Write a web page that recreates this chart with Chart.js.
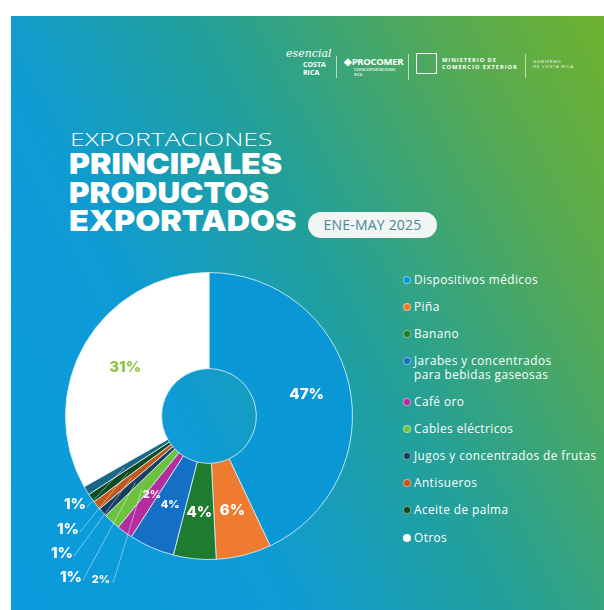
<!doctype html>
<html>

<head>
  <meta charset="utf-8">
  <script src="https://cdn.jsdelivr.net/npm/chart.js@4/dist/chart.umd.min.js"></script>
  <style>
    body { margin: 0; width: 604px; height: 610px; background: #fff; overflow: hidden; font-family: "Open Sans", sans-serif; }
    #card {
      position: absolute; left: 11px; top: 16px; width: 593px; height: 594px; overflow: hidden;
      background: linear-gradient(62deg, #0a9bdc 0%, #0e9bd6 30%, #22a09a 55%, #56aa52 82%, #6eb22e 100%);
    }
    .t { position: absolute; color: #fff; white-space: nowrap; transform-origin: 0 0; }
    #sub { left: 59px; top: 114px; font-size: 19px; line-height: 19px; font-weight: 300; font-family: "Open Sans", sans-serif; }
    .big { left: 58px; font-family: Inter, sans-serif; font-weight: 900; font-size: 29px; line-height: 30px; }
    #pill {
      position: absolute; left: 297px; top: 196px; width: 129px; height: 26px; border-radius: 13px;
      background: #f1f5f4; color: #4a8894; font-size: 14px; line-height: 26px; text-align: center; letter-spacing: 0.2px;
    }
    #legend { position: absolute; left: 390px; top: 253px; }
    .li { position: absolute; left: 0; color: #fff; font-size: 11.8px; line-height: 13.5px; white-space: pre; letter-spacing: 0.45px; }
    .dot { position: absolute; left: 2px; top: 2.5px; width: 8px; height: 8px; border-radius: 50%; border: 1px solid rgba(255,255,255,0.45); box-sizing: border-box; }
    .li span { position: absolute; left: 13px; top: 0; }
    #wrap { position: absolute; left: 0px; top: 234px; width: 390px; height: 360px; }
    .logo { position: absolute; color: #fff; font-weight: 700; white-space: nowrap; }
    .sep { position: absolute; width: 1px; background: rgba(255,255,255,0.6); }
  </style>
</head>

<body>
  <div id="card">
    <div class="logo" style="left:275px;top:31px;font-size:11px;font-style:italic;font-weight:400;font-family:'DejaVu Serif',serif;">esencial</div>
    <div class="logo" style="left:292px;top:45px;font-size:7px;line-height:7.5px;">COSTA<br>RICA</div>
    <div class="sep" style="left:325px;top:40px;height:22px;"></div>
    <div class="logo" style="left:333px;top:39px;font-size:9.5px;letter-spacing:-0.3px;">&#9670;PROCOMER</div>
    <div class="logo" style="left:343px;top:51px;font-size:3.5px;opacity:0.8;">COSTA EXPORTACIONES<br>RICA</div>
    <div class="sep" style="left:397px;top:38px;height:26px;"></div>
    <div style="position:absolute;left:405px;top:37px;width:19px;height:19px;border:1.5px solid #fff;"></div>
    <div class="logo" style="left:431px;top:41px;font-size:5.8px;line-height:6.5px;letter-spacing:0.9px;">MINISTERIO DE<br>COMERCIO EXTERIOR</div>
    <div class="sep" style="left:514px;top:38px;height:24px;"></div>
    <div class="logo" style="left:522px;top:43px;font-size:4.3px;line-height:5px;letter-spacing:0.8px;font-weight:400;">GOBIERNO<br>DE COSTA RICA</div>

    <div class="t" id="sub" data-w="203">EXPORTACIONES</div>
    <div class="t big" style="top:133px;" data-w="213">PRINCIPALES</div>
    <div class="t big" style="top:162px;" data-w="200">PRODUCTOS</div>
    <div class="t big" style="top:190px;" data-w="228">EXPORTADOS</div>
    <div id="pill">ENE-MAY 2025</div>

    <div id="wrap"><canvas id="canvas"></canvas></div>
    <div id="legend"></div>
  </div>
  <script>
    // datos (orden horario desde las 12)
    const categories = ['Dispositivos médicos', 'Piña', 'Banano', 'Jarabes y concentrados\npara bebidas gaseosas',
      'Café oro', 'Cables eléctricos', 'Jugos y concentrados de frutas', 'Antisueros', 'Aceite de palma', '', 'Otros'];
    const shares = [43, 6.2, 4.8, 5.1, 1.8, 1.9, 1, 1, 1, 1, 33.2];
    const pctLabels = ['47%', '6%', '4%', '4%', '2%', '2%', '1%', '1%', '1%', '1%', '31%'];
    const colors = ['#0a97d6', '#ee7b30', '#1f7b2f', '#1370c4', '#b42c9f', '#6cc23e', '#173f5f', '#c2561b', '#0f4b22', '#1c6685', '#ffffff'];

    // ajustar ancho de los titulos
    document.querySelectorAll('[data-w]').forEach((el) => {
      el.style.transform = 'scaleX(' + (el.dataset.w / el.offsetWidth) + ')';
    });

    // leyenda html
    const legendY = [0, 27, 54, 81, 122, 149, 176, 203, 230, 258];
    let k = 0;
    categories.forEach((c, i) => {
      if (!c) return;
      const d = document.createElement('div');
      d.className = 'li';
      d.style.top = (legendY[k++] + 4) + 'px';
      d.innerHTML = '<div class="dot" style="background:' + colors[i] + '"></div><span>' + c + '</span>';
      document.getElementById('legend').appendChild(d);
    });

    // etiquetas exteriores: desplazamiento respecto al centro
    const outside = { 5: [-108, 164, 11], 6: [-138, 161, 15], 7: [-147, 137, 15], 8: [-141, 113, 15], 9: [-134, 88, 15] };
    const insideSize = [15, 15, 15, 11, 11];

    const pctPlugin = {
      id: 'pct',
      afterDatasetsDraw(chart) {
        const ctx = chart.ctx;
        const meta = chart.getDatasetMeta(0);
        ctx.save();
        ctx.textAlign = 'center';
        ctx.textBaseline = 'middle';
        meta.data.forEach((arc, i) => {
          const p = arc.getProps(['x', 'y', 'startAngle', 'endAngle'], true);
          const mid = (p.startAngle + p.endAngle) / 2;
          const px = p.x + Math.cos(mid) * 99, py = p.y + Math.sin(mid) * 99;
          if (outside[i]) {
            const [dx, dy, fs] = outside[i];
            const lx = p.x + dx, ly = p.y + dy;
            ctx.strokeStyle = 'rgba(255,255,255,0.55)';
            ctx.lineWidth = 0.8;
            ctx.beginPath();
            ctx.moveTo(lx + 12, ly + 3);
            ctx.lineTo(px, py);
            ctx.stroke();
            ctx.fillStyle = '#fff';
            ctx.font = '800 ' + fs + 'px Inter, sans-serif';
            ctx.fillText(pctLabels[i], lx, ly);
          } else {
            const fs = i === 10 ? 15 : insideSize[i];
            ctx.fillStyle = i === 10 ? '#8cc43f' : '#fff';
            ctx.font = '800 ' + fs + 'px Inter, sans-serif';
            const r = i === 0 ? 100 : 97;
            ctx.fillText(pctLabels[i], p.x + Math.cos(mid) * r, p.y + Math.sin(mid) * r);
          }
        });
        ctx.restore();
      }
    };

    new Chart(document.getElementById('canvas').getContext('2d'), {
      type: 'doughnut',
      data: {
        labels: categories,
        datasets: [{
          data: shares,
          backgroundColor: colors,
          borderColor: 'rgba(215,238,246,0.85)',
          borderWidth: 1
        }]
      },
      options: {
        responsive: true,
        maintainAspectRatio: false,
        animation: false,
        cutout: '33%',
        layout: { padding: { left: 54, top: 22, right: 48, bottom: 50 } },
        plugins: { legend: { display: false }, tooltip: { enabled: false } }
      },
      plugins: [pctPlugin]
    });
  </script>
</body>

</html>
